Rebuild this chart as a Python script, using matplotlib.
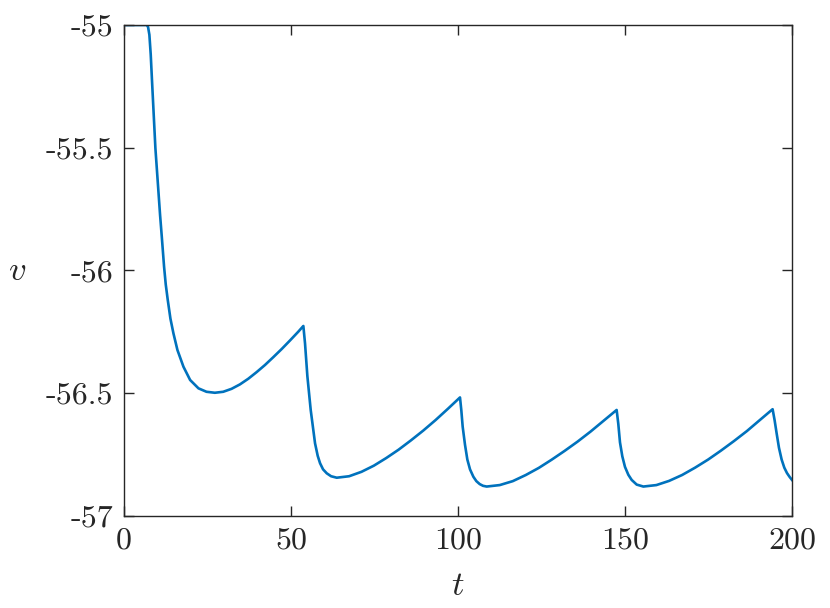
import matplotlib

matplotlib.use("Agg")

import matplotlib.pyplot as plt

# trace (t, v)
t_vals = [
    0, 6.8, 7.2, 7.6, 8.0, 8.4, 9.4, 10.8, 11.3, 12.0, 12.5, 13.1, 13.9,
    14.8, 16.0, 17.8, 19.8, 22.3, 24.7, 27.2,
    29.7, 32.2, 34.7, 37.2, 39.7, 42.2, 44.7, 47.2, 49.7, 52.2, 53.7,
    54.2, 54.9, 55.9, 57.2, 58.0, 58.7, 59.6, 60.7, 62.0, 63.7,
    67.4, 71.1, 74.8, 78.5, 82.2, 85.9, 89.6, 93.3, 97.0, 100.6,
    101.0, 101.4, 102.1, 102.8, 103.6, 104.6, 105.5, 106.5, 107.5, 108.6,
    112.5, 116.4, 120.3, 124.2, 128.0, 131.9, 135.8, 139.7, 143.6, 147.5,
    148.0, 148.5, 149.2, 150.0, 151.0, 152.0, 153.5, 155.5,
    159.4, 163.2, 167.1, 171.0, 174.9, 178.7, 182.6, 186.5, 190.3, 194.2,
    194.8, 195.4, 196.1, 196.9, 197.7, 198.5, 199.3, 200.0,
]
v_vals = [
    -55.0, -55.0, -55.008, -55.04, -55.12, -55.231, -55.502, -55.774,
    -55.86, -55.985, -56.057, -56.12, -56.196,
    -56.256, -56.324, -56.392, -56.446, -56.48, -56.494, -56.498,
    -56.494, -56.482, -56.464, -56.441, -56.414, -56.385, -56.353, -56.320,
    -56.285, -56.249, -56.226,
    -56.297, -56.43, -56.568, -56.704, -56.755, -56.785, -56.81, -56.826,
    -56.838, -56.844,
    -56.838, -56.820, -56.795, -56.764, -56.730, -56.692, -56.652, -56.609,
    -56.563, -56.517,
    -56.57, -56.636, -56.71, -56.77, -56.81, -56.84, -56.858, -56.870,
    -56.877, -56.880,
    -56.874, -56.858, -56.833, -56.804, -56.771, -56.735, -56.697, -56.656,
    -56.612, -56.568,
    -56.625, -56.70, -56.757, -56.80, -56.832, -56.853, -56.872, -56.880,
    -56.874, -56.857, -56.833, -56.803, -56.770, -56.734, -56.695, -56.654,
    -56.610, -56.565,
    -56.61, -56.663, -56.722, -56.77, -56.803, -56.825, -56.841, -56.853,
]

xticks = [0, 50, 100, 150, 200]
xtick_labels = ["0", "50", "100", "150", "200"]
yticks = [-57, -56.5, -56, -55.5, -55]
ytick_labels = ["-57", "-56.5", "-56", "-55.5", "-55"]

plt.rcParams["mathtext.fontset"] = "cm"

fig = plt.figure(figsize=(8.3, 6.08), dpi=100)
ax = fig.add_axes([0.1494, 0.1513, 0.8048, 0.8076])

ax.plot(t_vals, v_vals, color="#0072BD", linewidth=1.9)

ax.set_xlim(0, 200)
ax.set_ylim(-57, -55)
ax.set_xticks(xticks, labels=xtick_labels)
ax.set_yticks(yticks, labels=ytick_labels)

for lab in ax.get_xticklabels() + ax.get_yticklabels():
    lab.set_fontfamily("cmr10")
    lab.set_fontsize(23)
    lab.set_color("#262626")

ax.tick_params(
    direction="in",
    top=True,
    right=True,
    length=7,
    width=1,
    color="#262626",
    pad=8,
)
for spine in ax.spines.values():
    spine.set_linewidth(1)
    spine.set_color("#262626")

ax.set_xlabel("$t$", fontsize=25, color="#262626", labelpad=10)
ax.set_ylabel("$v$", fontsize=25, color="#262626", rotation=0, labelpad=20,
              va="center")

fig.savefig("out.png", dpi=100)
plt.close(fig)
